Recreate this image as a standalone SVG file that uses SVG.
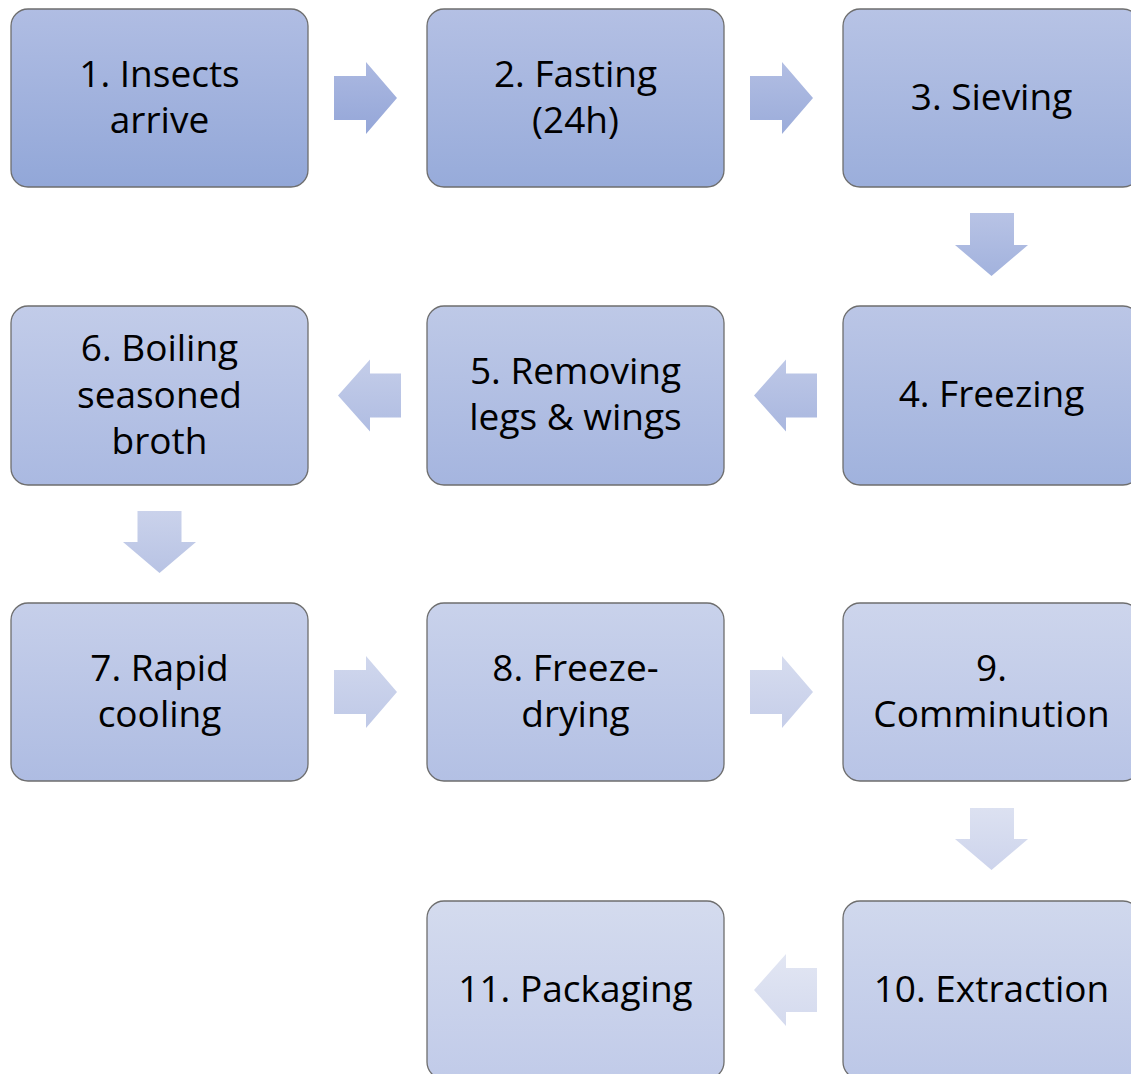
<svg xmlns="http://www.w3.org/2000/svg" width="1131" height="1074" viewBox="0 0 1131 1074">
<style>
.box{stroke:#6e6e6e;stroke-width:1.3}
.lbl{font-family:"Open Sans","Liberation Sans",sans-serif;font-size:37px;fill:#000;text-anchor:middle}
</style>
<defs>
<linearGradient id="n1" x1="0" y1="0" x2="0" y2="1"><stop offset="0" stop-color="#b0bde3"/><stop offset="1" stop-color="#92a7d8"/></linearGradient>
<linearGradient id="n2" x1="0" y1="0" x2="0" y2="1"><stop offset="0" stop-color="#b4c0e4"/><stop offset="1" stop-color="#97abda"/></linearGradient>
<linearGradient id="n3" x1="0" y1="0" x2="0" y2="1"><stop offset="0" stop-color="#b7c3e5"/><stop offset="1" stop-color="#9baedb"/></linearGradient>
<linearGradient id="n4" x1="0" y1="0" x2="0" y2="1"><stop offset="0" stop-color="#bbc6e6"/><stop offset="1" stop-color="#a0b2dd"/></linearGradient>
<linearGradient id="n5" x1="0" y1="0" x2="0" y2="1"><stop offset="0" stop-color="#bec9e7"/><stop offset="1" stop-color="#a5b5df"/></linearGradient>
<linearGradient id="n6" x1="0" y1="0" x2="0" y2="1"><stop offset="0" stop-color="#c2cce9"/><stop offset="1" stop-color="#aab9e1"/></linearGradient>
<linearGradient id="n7" x1="0" y1="0" x2="0" y2="1"><stop offset="0" stop-color="#c6cfea"/><stop offset="1" stop-color="#aebce2"/></linearGradient>
<linearGradient id="n8" x1="0" y1="0" x2="0" y2="1"><stop offset="0" stop-color="#c9d2eb"/><stop offset="1" stop-color="#b3c0e4"/></linearGradient>
<linearGradient id="n9" x1="0" y1="0" x2="0" y2="1"><stop offset="0" stop-color="#cdd5ec"/><stop offset="1" stop-color="#b8c4e6"/></linearGradient>
<linearGradient id="n10" x1="0" y1="0" x2="0" y2="1"><stop offset="0" stop-color="#d0d8ed"/><stop offset="1" stop-color="#bcc7e7"/></linearGradient>
<linearGradient id="n11" x1="0" y1="0" x2="0" y2="1"><stop offset="0" stop-color="#d4dbee"/><stop offset="1" stop-color="#c1cbe9"/></linearGradient>
<linearGradient id="a1" x1="0" y1="0" x2="0" y2="1"><stop offset="0" stop-color="#acb9e1"/><stop offset="1" stop-color="#94a6d8"/></linearGradient>
<linearGradient id="a2" x1="0" y1="0" x2="0" y2="1"><stop offset="0" stop-color="#b2bee3"/><stop offset="1" stop-color="#9bacda"/></linearGradient>
<linearGradient id="a3" x1="0" y1="0" x2="0" y2="1"><stop offset="0" stop-color="#b8c3e5"/><stop offset="1" stop-color="#a2b2dd"/></linearGradient>
<linearGradient id="a4" x1="0" y1="0" x2="0" y2="1"><stop offset="0" stop-color="#bec8e7"/><stop offset="1" stop-color="#a9b7df"/></linearGradient>
<linearGradient id="a5" x1="0" y1="0" x2="0" y2="1"><stop offset="0" stop-color="#c4cde9"/><stop offset="1" stop-color="#b0bde2"/></linearGradient>
<linearGradient id="a6" x1="0" y1="0" x2="0" y2="1"><stop offset="0" stop-color="#cad2eb"/><stop offset="1" stop-color="#b8c3e4"/></linearGradient>
<linearGradient id="a7" x1="0" y1="0" x2="0" y2="1"><stop offset="0" stop-color="#d0d7ed"/><stop offset="1" stop-color="#bfc9e7"/></linearGradient>
<linearGradient id="a8" x1="0" y1="0" x2="0" y2="1"><stop offset="0" stop-color="#d6dcef"/><stop offset="1" stop-color="#c6cee9"/></linearGradient>
<linearGradient id="a9" x1="0" y1="0" x2="0" y2="1"><stop offset="0" stop-color="#dce1f1"/><stop offset="1" stop-color="#cdd4ec"/></linearGradient>
<linearGradient id="a10" x1="0" y1="0" x2="0" y2="1"><stop offset="0" stop-color="#e2e6f3"/><stop offset="1" stop-color="#d4daee"/></linearGradient>
</defs>
<rect width="1131" height="1074" fill="#ffffff"/>
<g id="connectors">
<path d="M334,76 H366 V62 L397,98 L366,134 V120 H334 Z" fill="url(#a1)"/>
<path d="M750,76 H782 V62 L813,98 L782,134 V120 H750 Z" fill="url(#a2)"/>
<path d="M970,213 H1014 V245 H1028 L991.5,276 L955,245 H970 Z" fill="url(#a3)"/>
<path d="M817,373.5 H786 V359.5 L754,395.5 L786,431.5 V417.5 H817 Z" fill="url(#a4)"/>
<path d="M401,373.5 H370 V359.5 L338,395.5 L370,431.5 V417.5 H401 Z" fill="url(#a5)"/>
<path d="M137.5,511 H181.5 V542 H196 L159.5,573 L123,542 H137.5 Z" fill="url(#a6)"/>
<path d="M334,670 H366 V656 L397,692 L366,728 V714 H334 Z" fill="url(#a7)"/>
<path d="M750,670 H782 V656 L813,692 L782,728 V714 H750 Z" fill="url(#a8)"/>
<path d="M970,808 H1014 V839 H1028 L991.5,870 L955,839 H970 Z" fill="url(#a9)"/>
<path d="M817,968 H786 V954 L754,990 L786,1026 V1012 H817 Z" fill="url(#a10)"/>
</g>
<g id="node1"><rect class="box" x="11" y="9" width="297" height="178" rx="17" fill="url(#n1)"/><text class="lbl" x="159.5" y="87">1. Insects</text><text class="lbl" x="159.5" y="133">arrive</text></g>
<g id="node2"><rect class="box" x="427" y="9" width="297" height="178" rx="17" fill="url(#n2)"/><text class="lbl" x="575.5" y="87">2. Fasting</text><text class="lbl" x="575.5" y="133">(24h)</text></g>
<g id="node3"><rect class="box" x="843" y="9" width="297" height="178" rx="17" fill="url(#n3)"/><text class="lbl" x="991.5" y="110">3. Sieving</text></g>
<g id="node4"><rect class="box" x="843" y="306" width="297" height="179" rx="17" fill="url(#n4)"/><text class="lbl" x="991.5" y="407">4. Freezing</text></g>
<g id="node5"><rect class="box" x="427" y="306" width="297" height="179" rx="17" fill="url(#n5)"/><text class="lbl" x="575.5" y="384">5. Removing</text><text class="lbl" x="575.5" y="430">legs &amp; wings</text></g>
<g id="node6"><rect class="box" x="11" y="306" width="297" height="179" rx="17" fill="url(#n6)"/><text class="lbl" x="159.5" y="361">6. Boiling</text><text class="lbl" x="159.5" y="407.5">seasoned</text><text class="lbl" x="159.5" y="454">broth</text></g>
<g id="node7"><rect class="box" x="11" y="603" width="297" height="178" rx="17" fill="url(#n7)"/><text class="lbl" x="159.5" y="681">7. Rapid</text><text class="lbl" x="159.5" y="727">cooling</text></g>
<g id="node8"><rect class="box" x="427" y="603" width="297" height="178" rx="17" fill="url(#n8)"/><text class="lbl" x="575.5" y="681">8. Freeze-</text><text class="lbl" x="575.5" y="727">drying</text></g>
<g id="node9"><rect class="box" x="843" y="603" width="297" height="178" rx="17" fill="url(#n9)"/><text class="lbl" x="991.5" y="681">9.</text><text class="lbl" x="991.5" y="727">Comminution</text></g>
<g id="node10"><rect class="box" x="843" y="901" width="297" height="178" rx="17" fill="url(#n10)"/><text class="lbl" x="991.5" y="1002">10. Extraction</text></g>
<g id="node11"><rect class="box" x="427" y="901" width="297" height="178" rx="17" fill="url(#n11)"/><text class="lbl" x="575.5" y="1002">11. Packaging</text></g>
</svg>
